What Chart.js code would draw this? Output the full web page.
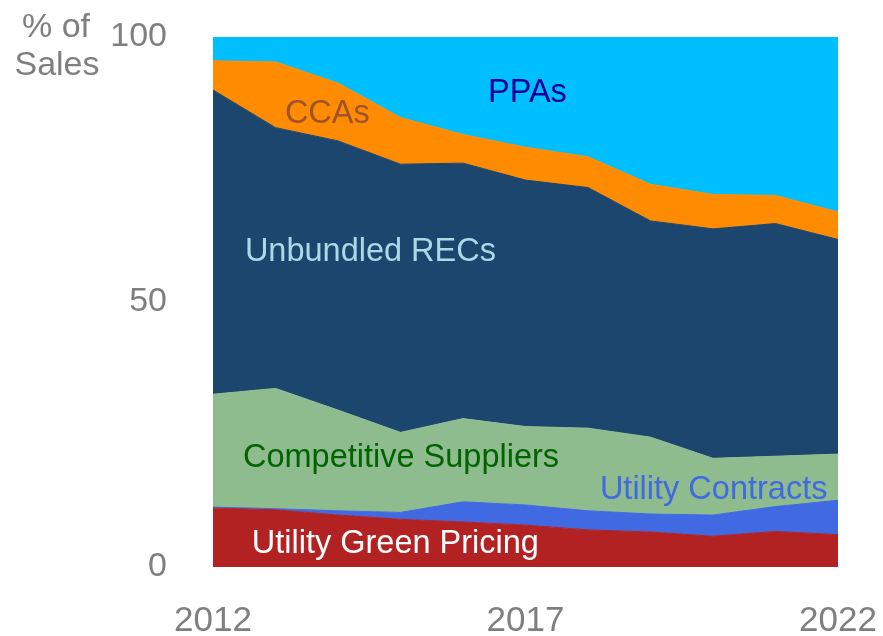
<!DOCTYPE html>
<html>
<head>
<meta charset="utf-8">
<script src="https://cdn.jsdelivr.net/npm/chart.js@4"></script>
<style>
  html, body { margin: 0; padding: 0; background: #fff; }
  #wrap { width: 883px; height: 636px; position: relative; }
</style>
</head>
<body>
<div id="wrap"><canvas id="chart"></canvas></div>
<script>
// -> Daten (Anteil am Absatz in %)
const years = ['2012', '2013', '2014', '2015', '2016', '2017', '2018', '2019', '2020', '2021', '2022'];
const yearTicks = ['2012', '2017', '2022'];
const yTicks = [0, 50, 100];

const greenPricing = [11.1, 10.8, 9.8, 9.0, 8.5, 7.9, 7.0, 6.6, 5.8, 6.7, 6.1];
const utilityContracts = [0.2, 0.2, 0.8, 1.3, 3.8, 3.8, 3.6, 3.4, 4.0, 4.7, 6.5];
const competitive = [21.3, 22.7, 19.0, 15.1, 15.7, 14.8, 15.6, 14.5, 10.7, 9.5, 8.7];
const unbundledRecs = [57.4, 49.2, 50.8, 50.6, 48.2, 46.5, 45.4, 40.8, 43.3, 43.9, 40.5];
const ccas = [5.5, 12.4, 10.9, 8.8, 5.4, 6.2, 5.8, 6.9, 6.5, 5.3, 5.2];
const ppas = [4.5, 4.7, 8.7, 15.2, 18.4, 20.8, 22.6, 27.8, 29.7, 29.9, 33.0];

const seriesNames = ['Utility Green Pricing', 'Utility Contracts', 'Competitive Suppliers', 'Unbundled RECs', 'CCAs', 'PPAs'];
const seriesValues = [greenPricing, utilityContracts, competitive, unbundledRecs, ccas, ppas];
const seriesColors = ['#b22222', '#4169e1', '#8fbc8f', '#1c466e', '#ff8c00', '#00bfff'];

// -> Beschriftungen im Diagramm (x = Jahr-Index, y = Wert)
const areaLabels = [
  { text: 'PPAs', x: 4.40, y: 87.7, color: '#000099' },
  { text: 'CCAs', x: 1.15, y: 83.8, color: '#a0522d' },
  { text: 'Unbundled RECs', x: 0.51, y: 57.8, color: '#add8e6' },
  { text: 'Competitive Suppliers', x: 0.48, y: 18.9, color: '#006400' },
  { text: 'Utility Contracts', x: 6.19, y: 12.8, color: '#4169e1' },
  { text: 'Utility Green Pricing', x: 0.62, y: 2.6, color: '#ffffff' }
];

const gray = '#7f7f7f';
const fontFamily = '"Liberation Sans", Arial, Helvetica, sans-serif';

const labelPlugin = {
  id: 'areaLabels',
  afterDatasetsDraw(chart) {
    const ctx = chart.ctx;
    const xs = chart.scales.x;
    const ys = chart.scales.y;
    ctx.save();
    ctx.font = '32.5px ' + fontFamily;
    ctx.textAlign = 'left';
    ctx.textBaseline = 'alphabetic';
    areaLabels.forEach((l) => {
      ctx.fillStyle = l.color;
      ctx.fillText(l.text, xs.getPixelForValue(l.x), ys.getPixelForValue(l.y));
    });
    ctx.restore();
  }
};

const axisTitlePlugin = {
  id: 'axisTitle',
  afterDraw(chart) {
    const ctx = chart.ctx;
    ctx.save();
    ctx.font = '34px ' + fontFamily;
    ctx.fillStyle = gray;
    ctx.textAlign = 'center';
    ctx.textBaseline = 'alphabetic';
    ctx.fillText('% of', 56, 37);
    ctx.fillText('Sales', 57, 75);
    ctx.restore();
  }
};

const canvas = document.querySelector('#chart');

const chart = new Chart(canvas, {
  type: 'line',
  data: {
    labels: years,
    datasets: seriesValues.map((vals, i) => ({
      label: seriesNames[i],
      data: vals,
      backgroundColor: seriesColors[i],
      borderColor: seriesColors[i],
      borderWidth: 1,
      pointRadius: 0,
      tension: 0,
      fill: i === 0 ? 'origin' : '-1'
    }))
  },
  options: {
    responsive: true,
    maintainAspectRatio: false,
    animation: false,
    layout: { padding: { left: 0, right: 45, top: 37, bottom: 0 } },
    plugins: {
      legend: { display: false },
      tooltip: { enabled: false }
    },
    scales: {
      x: {
        offset: false,
        grid: { display: false, drawTicks: false },
        border: { display: false },
        afterFit(scale) {
          scale.height = 69;
          scale.paddingLeft = 0;
          scale.paddingRight = 0;
        },
        ticks: {
          autoSkip: false,
          maxRotation: 0,
          padding: 33,
          color: gray,
          font: { family: fontFamily, size: 35 },
          callback: (val, i) => yearTicks.includes(years[i]) ? years[i] : ''
        }
      },
      y: {
        stacked: true,
        min: 0,
        max: 100,
        grid: { display: false, drawTicks: false },
        border: { display: false },
        afterFit(scale) {
          scale.width = 213;
          scale.paddingTop = 0;
          scale.paddingBottom = 0;
        },
        afterBuildTicks(scale) { scale.ticks = yTicks.map((v) => ({ value: v })); },
        ticks: {
          padding: 46,
          color: gray,
          font: { family: fontFamily, size: 34 }
        }
      }
    }
  },
  plugins: [labelPlugin, axisTitlePlugin]
});
</script>
</body>
</html>
